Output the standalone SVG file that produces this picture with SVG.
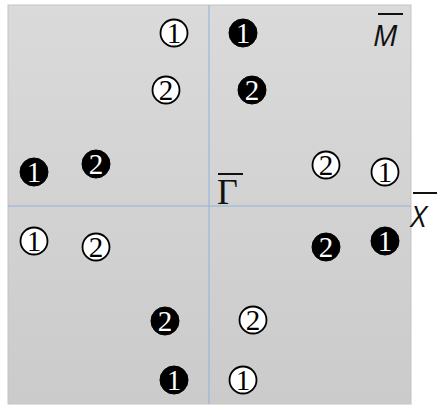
<svg xmlns="http://www.w3.org/2000/svg" width="437" height="406" viewBox="0 0 437 406">
<defs>
<linearGradient id="bg" x1="0" y1="0" x2="0" y2="1">
<stop offset="0" stop-color="#dadada"/>
<stop offset="1" stop-color="#cbcbcb"/>
</linearGradient>
</defs>
<style>
.w circle{fill:#ffffff;stroke:#000;stroke-width:1.8}
.b circle{fill:#000;stroke:#000;stroke-width:1}
.w text{fill:#000}
.b text{fill:#fff}
.n text{font-family:"Liberation Serif","Times New Roman",serif;font-size:29px;text-anchor:middle}
.ax{stroke:#8db3d9;stroke-width:1}
.lbl{font-family:"Open Sans","Liberation Sans",sans-serif;font-style:italic;font-size:29px;fill:#111}
.bar{stroke:#111;stroke-width:2}
</style>
<rect x="8" y="5" width="403" height="399" fill="url(#bg)" stroke="#c4c4c4" stroke-width="1"/>
<g id="axes">
<line x1="8" y1="203" x2="411" y2="203" stroke="#e0c8bc" stroke-width="1" opacity="0.6"/>
<line class="ax" x1="209" y1="5" x2="209" y2="404"/>
<line class="ax" x1="8" y1="206" x2="411" y2="206"/>
</g>
<g id="w1a" class="n w"><circle cx="174" cy="33" r="13.5"/><text x="174" y="43">1</text></g>
<g id="b1a" class="n b"><circle cx="243" cy="33" r="14"/><text x="243" y="43">1</text></g>
<g id="w2a" class="n w"><circle cx="166" cy="90" r="13.5"/><text x="166" y="100">2</text></g>
<g id="b2a" class="n b"><circle cx="252" cy="90" r="14"/><text x="252" y="100">2</text></g>
<g id="b1b" class="n b"><circle cx="34" cy="172" r="14"/><text x="34" y="182">1</text></g>
<g id="b2b" class="n b"><circle cx="96" cy="164" r="14"/><text x="96" y="174">2</text></g>
<g id="w2b" class="n w"><circle cx="326" cy="165" r="13.5"/><text x="326" y="175">2</text></g>
<g id="w1b" class="n w"><circle cx="385" cy="172" r="13.5"/><text x="385" y="182">1</text></g>
<g id="w1c" class="n w"><circle cx="34" cy="241" r="13.5"/><text x="34" y="251">1</text></g>
<g id="w2c" class="n w"><circle cx="96" cy="247" r="13.5"/><text x="96" y="257">2</text></g>
<g id="b2c" class="n b"><circle cx="326" cy="247" r="14"/><text x="326" y="257">2</text></g>
<g id="b1c" class="n b"><circle cx="385" cy="241" r="14"/><text x="385" y="251">1</text></g>
<g id="b2d" class="n b"><circle cx="165" cy="321" r="14"/><text x="165" y="331">2</text></g>
<g id="w2d" class="n w"><circle cx="253" cy="320" r="13.5"/><text x="253" y="330">2</text></g>
<g id="b1d" class="n b"><circle cx="174" cy="380" r="14"/><text x="174" y="390">1</text></g>
<g id="w1d" class="n w"><circle cx="243" cy="380" r="13.5"/><text x="243" y="390">1</text></g>
<g id="M">
<line class="bar" x1="378" y1="14" x2="403" y2="14"/>
<text class="lbl" x="373" y="46">M</text>
</g>
<g id="X">
<line class="bar" x1="413" y1="193" x2="437" y2="193"/>
<text class="lbl" x="411" y="227">X</text>
</g>
<g id="Gamma">
<line class="bar" x1="218" y1="174" x2="243" y2="174"/>
<text x="217" y="204" style="font-family:'Liberation Serif','Times New Roman',serif;font-size:36px;fill:#111">Γ</text>
</g>
</svg>
